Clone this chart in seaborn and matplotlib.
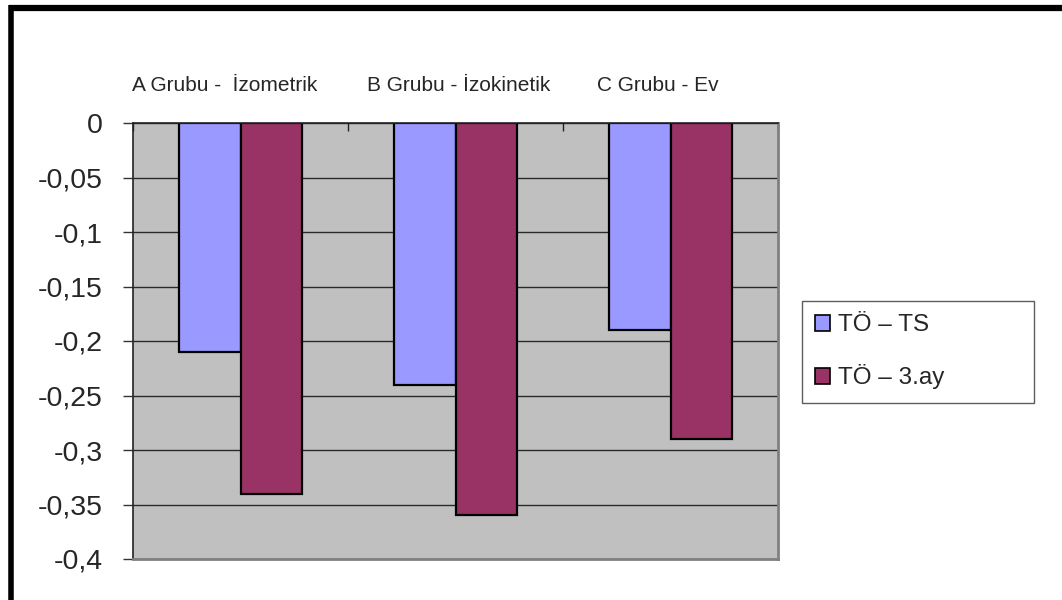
import matplotlib
matplotlib.use("Agg")
import matplotlib.pyplot as plt
from matplotlib.lines import Line2D
from matplotlib.patches import Patch
from matplotlib.ticker import FuncFormatter, MultipleLocator, FixedLocator
from matplotlib.transforms import ScaledTranslation
import numpy as np
import pandas as pd
import seaborn as sns

# Group names, series names and mean differences per group
gruplar = ["A Grubu -  İzometrik", "B Grubu - İzokinetik", "C Grubu - Ev"]
seriler = ["TÖ – TS", "TÖ – 3.ay"]
fark_ts = [-0.21, -0.24, -0.19]
fark_3ay = [-0.34, -0.36, -0.29]
renkler = ["#9999FF", "#993366"]

df = pd.DataFrame({
    "grup": gruplar * 2,
    "seri": [seriler[0]] * 3 + [seriler[1]] * 3,
    "deger": fark_ts + fark_3ay,
})

sns.set_theme(style="white")
plt.rcParams["font.family"] = ["Liberation Sans", "DejaVu Sans"]

fig = plt.figure(figsize=(10.62, 6.0), dpi=100)
ax = fig.add_axes([133 / 1062, 1 - 559 / 600, (778 - 133) / 1062, (559 - 123) / 600])
ax.set_facecolor("#C0C0C0")

sns.barplot(data=df, x="grup", y="deger", hue="seri", palette=renkler,
            width=0.57, edgecolor="black", linewidth=1.6, ax=ax,
            errorbar=None, legend=False, saturation=1)

ax.set_ylim(-0.4, 0)
ax.set_xlim(-0.5, 2.5)
ax.set_xlabel("")
ax.set_ylabel("")

# Horizontal gridlines at every 0.05
ax.yaxis.set_major_locator(MultipleLocator(0.05))
ax.yaxis.grid(True, color="#2a2a2a", linewidth=1.0)
ax.xaxis.grid(False)
ax.set_axisbelow(True)

def virgul(v, pos):
    v = round(v, 2)
    if v == 0:
        return "0"
    return f"{v:g}".replace(".", ",")

ax.yaxis.set_major_formatter(FuncFormatter(virgul))
ax.tick_params(axis="y", which="major", direction="out", length=7, width=1,
               color="#333333", pad=15, labelsize=20.5, left=True)

# Category names above the plot, boundary ticks on the zero line
ax.xaxis.tick_top()
ax.set_xticks(range(len(gruplar)))
ax.set_xticklabels(gruplar)
ax.xaxis.set_minor_locator(FixedLocator([-0.5, 0.5, 1.5, 2.5]))
ax.tick_params(axis="x", which="major", length=0, pad=20, labelsize=15)
ax.tick_params(axis="x", which="minor", direction="in", length=6, width=1,
               color="#222222", top=True, bottom=False)

# Slight horizontal nudges of the category names
for lbl, dx in zip(ax.get_xticklabels(), [-16, 3, -13]):
    lbl.set_transform(lbl.get_transform() + ScaledTranslation(dx / 100, 0, fig.dpi_scale_trans))

for side in ["left", "top"]:
    ax.spines[side].set_color("#222222")
    ax.spines[side].set_linewidth(1.2)
for side in ["right", "bottom"]:
    ax.spines[side].set_color("#808080")
    ax.spines[side].set_linewidth(2.0)
    ax.spines[side].set_visible(True)

# Legend at the right side
tutamaclar = [Patch(facecolor=c, edgecolor="black", linewidth=1.2) for c in renkler]
leg = fig.legend(tutamaclar, seriler, loc="upper left",
                 bbox_to_anchor=(802 / 1062, 1 - 301 / 600, 232 / 1062, 0.0),
                 mode="expand", fontsize=17.5, frameon=True, fancybox=False,
                 edgecolor="#333333", borderpad=0.55, labelspacing=1.15,
                 handlelength=0.62, handleheight=0.62, handletextpad=0.3,
                 borderaxespad=0)
leg.get_frame().set_linewidth(1.0)

# Outer frame (top and left edges)
fig.add_artist(Line2D([9 / 1062, 1.0], [1 - 8 / 600, 1 - 8 / 600],
                      transform=fig.transFigure, color="black", linewidth=4.5,
                      solid_capstyle="butt"))
fig.add_artist(Line2D([11 / 1062, 11 / 1062], [0.0, 1 - 5 / 600],
                      transform=fig.transFigure, color="black", linewidth=4.0,
                      solid_capstyle="butt"))

fig.savefig("out.png", dpi=100, facecolor="white")
